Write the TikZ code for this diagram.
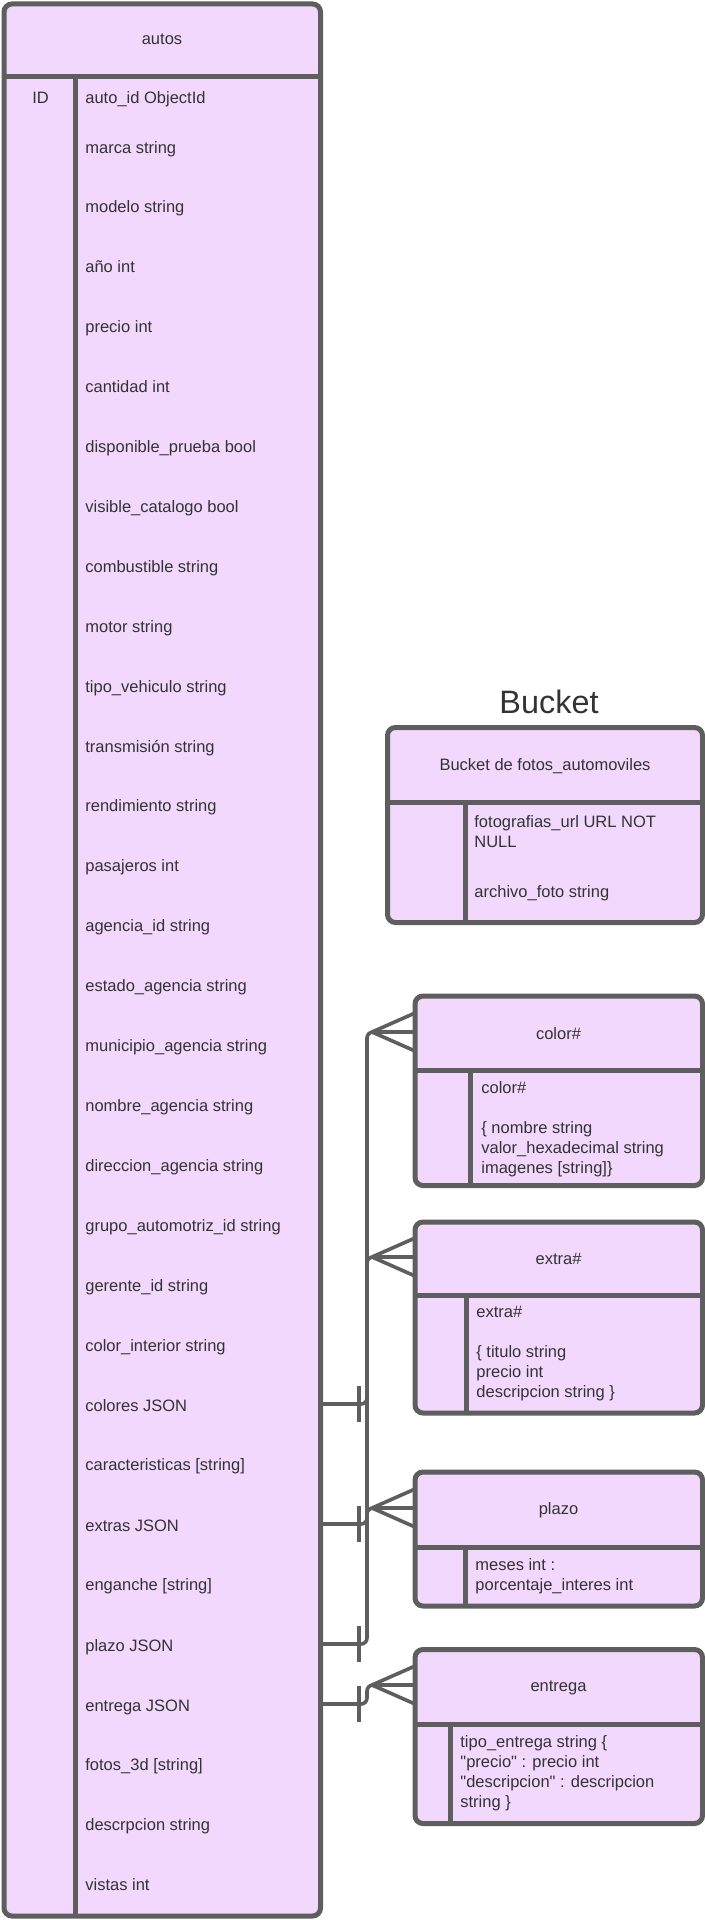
\documentclass[tikz,border=0pt]{standalone}
\usepackage{fontspec}
\setmainfont{Liberation Sans}

\definecolor{lila}{HTML}{F2D8FC}
\definecolor{linea}{HTML}{5E5E5E}
\definecolor{texto}{HTML}{333333}

\tikzset{
	caja/.style={draw=linea,fill=lila,line width=2.5pt,rounded corners=4pt},
	sep/.style={draw=linea,line width=2.5pt},
	campo/.style={anchor=west,inner sep=0pt,text=texto,text height=8.6pt,text depth=1.2pt},
	titulo/.style={inner sep=0pt,text=texto,text height=8.6pt,text depth=1.2pt},
	bloque/.style={anchor=north west,inner sep=0pt,text=texto,align=left},
	rel/.style={draw=linea,line width=1.8pt,rounded corners=3pt}
}

\begin{document}
\begin{tikzpicture}[x=0.5pt,y=-0.5pt,font=\fontsize{8.25}{10}\selectfont]
						\useasboundingbox (0,0) rectangle (705,1920);
						% autos
						\draw[caja](4,4) rectangle (320.5,1916);
						\draw[sep](4,77)--(320.5,77);
						\draw[sep](75,77)--(75,1916);
						\node[titulo] (autos) at (162,37) {autos};
						\node[titulo] (id) at (40.5,96) {ID};
						\node[campo] (autoid) at (85,96) {auto\_id ObjectId};
						\node[campo] (marca) at (85,146) {marca string};
						\node[campo] (modelo) at (85,205) {modelo string};
						\node[campo] (anio) at (85,265) {año int};
						\node[campo] (precio) at (85,325) {precio int};
						\node[campo] (cantidad) at (85,385) {cantidad int};
						\node[campo] (disponible) at (85,445) {disponible\_prueba bool};
						\node[campo] (visible) at (85,505) {visible\_catalogo bool};
						\node[campo] (combustible) at (85,565) {combustible string};
						\node[campo] (motor) at (85,625) {motor string};
						\node[campo] (tipo) at (85,685) {tipo\_vehiculo string};
						\node[campo] (transmision) at (85,745) {transmisión string};
						\node[campo] (rendimiento) at (85,804) {rendimiento string};
						\node[campo] (pasajeros) at (85,864) {pasajeros int};
						\node[campo] (agencia) at (85,924) {agencia\_id string};
						\node[campo] (estado) at (85,984) {estado\_agencia string};
						\node[campo] (municipio) at (85,1044) {municipio\_agencia string};
						\node[campo] (nombre) at (85,1104) {nombre\_agencia string};
						\node[campo] (direccion) at (85,1164) {direccion\_agencia string};
						\node[campo] (grupo) at (85,1224) {grupo\_automotriz\_id string};
						\node[campo] (gerente) at (85,1284) {gerente\_id string};
						\node[campo] (interior) at (85,1344) {color\_interior string};
						\node[campo] (colores) at (85,1404) {colores JSON};
						\node[campo] (caracteristicas) at (85,1463) {caracteristicas [string]};
						\node[campo] (extras) at (85,1524) {extras JSON};
						\node[campo] (enganche) at (85,1583) {enganche [string]};
						\node[campo] (plazo) at (85,1644) {plazo JSON};
						\node[campo] (entrega) at (85,1704) {entrega JSON};
						\node[campo] (fotos) at (85,1763) {fotos\_3d [string]};
						\node[campo] (descrpcion) at (85,1823) {descrpcion string};
						\node[campo] (vistas) at (85,1883) {vistas int};
						% Bucket
						\node[inner sep=0pt,text=texto,font=\fontsize{16.2}{19}\selectfont] (bucket) at (549,702) {Bucket};
						\draw[caja](387.5,727.5) rectangle (702.5,922.5);
						\draw[sep](387.5,802.5)--(702.5,802.5);
						\draw[sep](465,802.5)--(465,922.5);
						\node[titulo] (fotosT) at (545,763) {Bucket de fotos\_automoviles};
						\node[bloque] (fotografias) at (474,815) {fotografias\_url URL NOT\\NULL};
						\node[campo] (archivo) at (474,890) {archivo\_foto string};
						% color#
						\draw[caja](415,996) rectangle (702.5,1185.5);
						\draw[sep](415,1070.5)--(702.5,1070.5);
						\draw[sep](470.5,1070.5)--(470.5,1185.5);
						\node[titulo] (colorT) at (558.5,1032) {color\#};
						\node[bloque] (colorB) at (481,1081) {color\#\\[10pt]\{ nombre string\\valor\_hexadecimal string\\imagenes [string]\}};
						% extra#
						\draw[caja](415,1222) rectangle (702.5,1413);
						\draw[sep](415,1295.5)--(702.5,1295.5);
						\draw[sep](466.5,1295.5)--(466.5,1413);
						\node[titulo] (extraT) at (558.5,1257) {extra\#};
						\node[bloque] (extraB) at (476,1306) {extra\#\\[10pt]\{ titulo string\\precio int\\descripcion string \}};
						% plazo
						\draw[caja](415,1472) rectangle (702.5,1606);
						\draw[sep](415,1547)--(702.5,1547);
						\draw[sep](465,1547)--(465,1606);
						\node[titulo] (plazoT) at (558.5,1507) {plazo};
						\node[bloque] (plazoB) at (475,1558) {meses int :\\porcentaje\_interes int};
						% entrega
						\draw[caja](415,1649.5) rectangle (702.5,1823.5);
						\draw[sep](415,1724)--(702.5,1724);
						\draw[sep](450.5,1724)--(450.5,1823.5);
						\node[titulo] (entregaT) at (558.5,1684) {entrega};
						\node[bloque] (entregaB) at (460,1735) {tipo\_entrega string \{\\\textquotedbl precio\textquotedbl{} : precio int\\\textquotedbl descripcion\textquotedbl{} : descripcion\\string \}};
						% relaciones
						\coordinate (autosR) at (320.5,0);
						\coordinate (bus) at (367,0);
						\coordinate (marcaT) at (359,0);
						\coordinate (colorIn) at (415,1032);
						\coordinate (extraIn) at (415,1257);
						\coordinate (plazoIn) at (415,1508);
						\coordinate (entregaIn) at (415,1685);
						\draw[rel](colores -| autosR)--(colores -| bus) |- (colorIn);
						\draw[rel](extras -| autosR)--(extras -| bus) |- (extraIn);
						\draw[rel](plazo -| autosR)--(plazo -| bus) |- (plazoIn);
						\draw[rel](entrega -| autosR)--(entrega -| bus) |- (entregaIn);
						\draw[rel](colores -| marcaT) ++(0,-18)--++(0,36);
						\draw[rel](extras -| marcaT) ++(0,-18)--++(0,36);
						\draw[rel](plazo -| marcaT) ++(0,-18)--++(0,36);
						\draw[rel](entrega -| marcaT) ++(0,-18)--++(0,36);
						\draw[rel](colorIn) ++(-43,0)--++(43,-19) ++(-43,19)--++(43,19);
						\draw[rel](extraIn) ++(-43,0)--++(43,-19) ++(-43,19)--++(43,19);
						\draw[rel](plazoIn) ++(-43,0)--++(43,-19) ++(-43,19)--++(43,19);
						\draw[rel](entregaIn) ++(-43,0)--++(43,-19) ++(-43,19)--++(43,19);
					\end{tikzpicture}
\end{document}
